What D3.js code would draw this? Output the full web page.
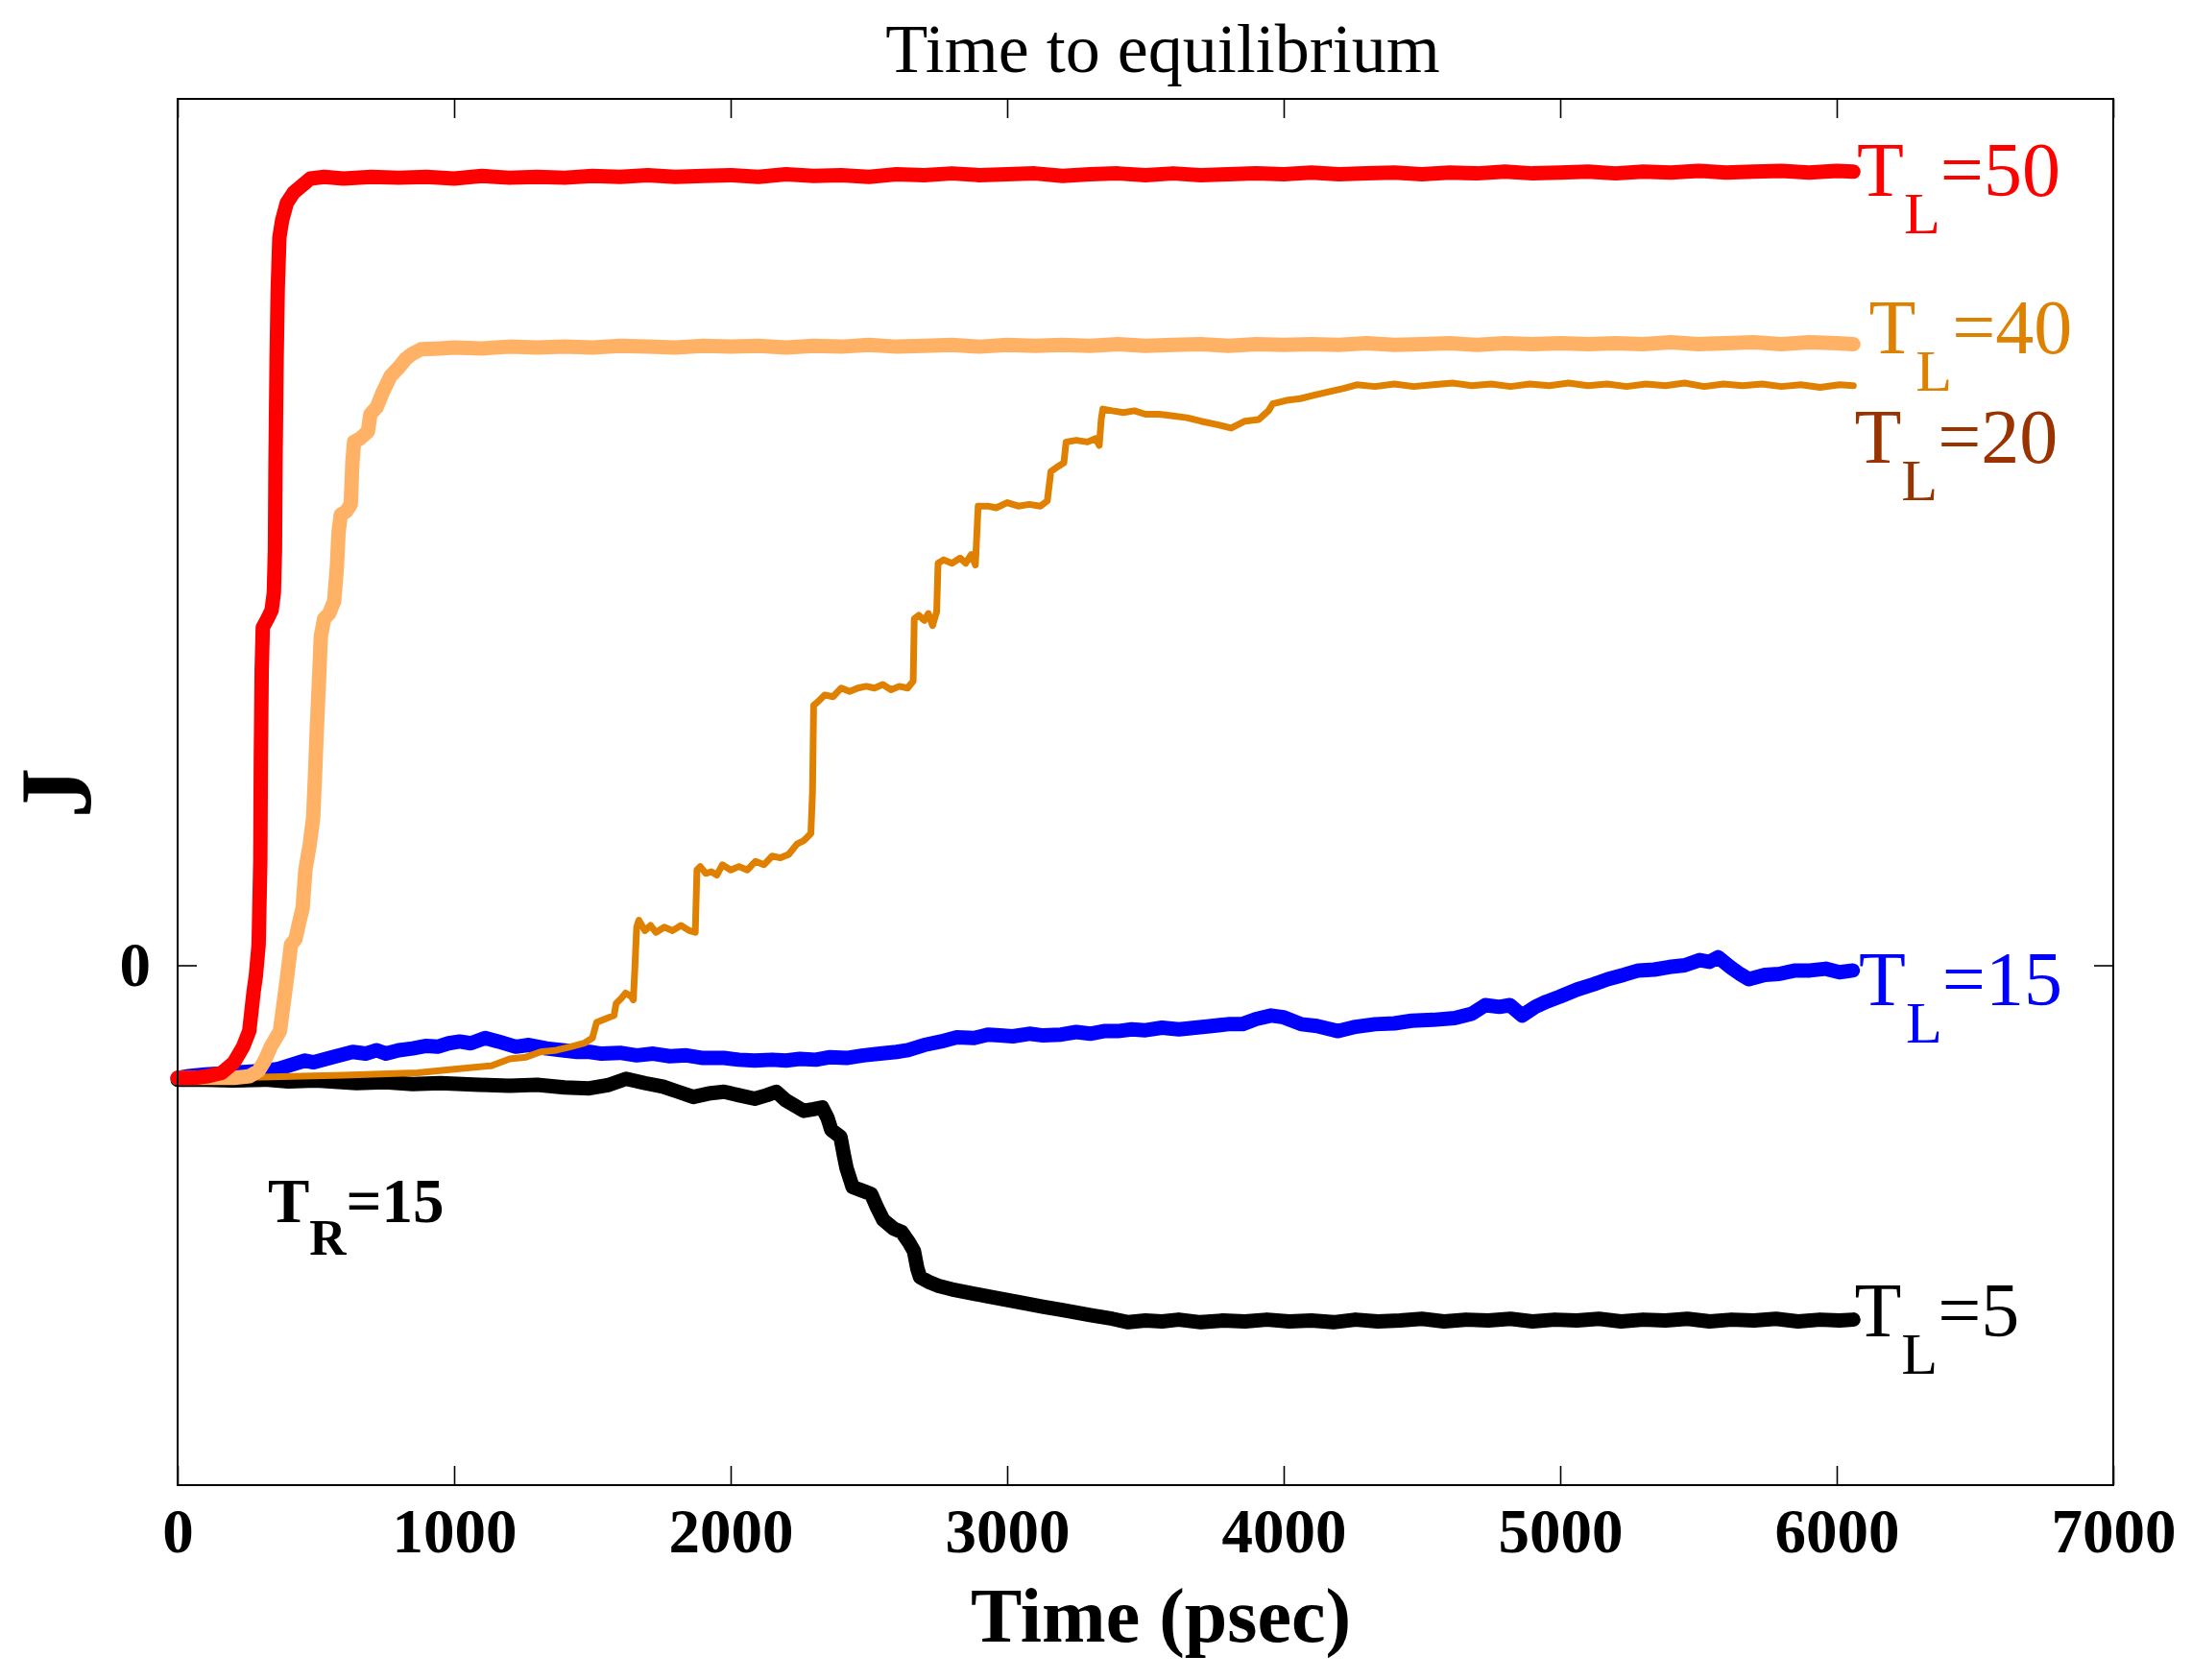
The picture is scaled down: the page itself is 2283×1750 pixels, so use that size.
<!DOCTYPE html>
<html>
<head>
<meta charset="utf-8">
<script src="https://cdn.jsdelivr.net/npm/d3@7"></script>
<style>
  html, body { margin: 0; padding: 0; background: #fff; }
  svg { display: block; }
</style>
</head>
<body>
<svg id="chart" width="2283" height="1750"></svg>
<script>
// ---------- data (time in psec, J in arbitrary units) ----------
const xTicks = [0, 1000, 2000, 3000, 4000, 5000, 6000, 7000];
const yTicks = [0];
const titleText = "Time to equilibrium";
const xLabel = "Time (psec)";
const yLabel = "J";

const seriesTL50 = [[0,-0.65],[60,-0.65],[110,-0.64],[160,-0.62],[204,-0.56],[237,-0.47],[259,-0.38],[268,-0.25],[275,-0.15],[283,-0.06],[293,0.12],[299,0.6],[301,1.2],[304,1.7],[308,1.95],[325,2.0],[340,2.05],[348,2.15],[352,2.4],[354,2.9],[358,3.5],[362,3.9],[368,4.2],[378,4.3],[395,4.4],[420,4.46],[450,4.5],[480,4.54],[530,4.55],[600,4.54],[700,4.55],[800,4.545],[900,4.55],[1000,4.54],[1100,4.555],[1200,4.545],[1300,4.55],[1400,4.545],[1500,4.555],[1600,4.55],[1700,4.56],[1800,4.55],[1900,4.555],[2000,4.56],[2100,4.55],[2200,4.565],[2300,4.555],[2400,4.56],[2500,4.55],[2600,4.565],[2700,4.56],[2800,4.57],[2900,4.56],[3000,4.565],[3100,4.57],[3200,4.555],[3300,4.565],[3400,4.57],[3500,4.56],[3600,4.57],[3700,4.56],[3800,4.565],[3900,4.57],[4000,4.565],[4100,4.575],[4200,4.565],[4300,4.57],[4400,4.575],[4500,4.565],[4600,4.575],[4700,4.57],[4800,4.58],[4900,4.57],[5000,4.575],[5100,4.58],[5200,4.57],[5300,4.58],[5400,4.575],[5500,4.585],[5600,4.575],[5700,4.58],[5800,4.585],[5900,4.575],[6000,4.585],[6060,4.58]];

const seriesTL40 = [[0,-0.65],[120,-0.65],[204,-0.65],[260,-0.64],[292,-0.61],[315,-0.55],[337,-0.47],[370,-0.38],[385,-0.2],[398,-0.04],[410,0.12],[426,0.15],[440,0.25],[452,0.33],[462,0.55],[478,0.7],[490,0.85],[497,1.1],[503,1.35],[510,1.6],[518,1.9],[530,2.0],[548,2.03],[566,2.1],[576,2.3],[582,2.5],[590,2.6],[610,2.62],[626,2.66],[632,2.9],[638,3.02],[660,3.04],[688,3.08],[697,3.18],[720,3.22],[740,3.3],[770,3.4],[800,3.45],[825,3.5],[850,3.53],[880,3.555],[950,3.56],[1000,3.565],[1100,3.56],[1200,3.57],[1300,3.565],[1400,3.57],[1500,3.565],[1600,3.575],[1700,3.57],[1800,3.565],[1900,3.575],[2000,3.57],[2100,3.575],[2200,3.565],[2300,3.575],[2400,3.57],[2500,3.58],[2600,3.57],[2700,3.575],[2800,3.58],[2900,3.57],[3000,3.58],[3100,3.575],[3200,3.58],[3300,3.575],[3400,3.585],[3500,3.575],[3600,3.58],[3700,3.585],[3800,3.575],[3900,3.585],[4000,3.58],[4100,3.585],[4200,3.58],[4300,3.59],[4400,3.58],[4500,3.585],[4600,3.59],[4700,3.58],[4800,3.59],[4900,3.585],[5000,3.59],[5100,3.585],[5200,3.59],[5300,3.585],[5400,3.595],[5500,3.585],[5600,3.59],[5700,3.595],[5800,3.585],[5900,3.595],[6000,3.59],[6060,3.585]];

const seriesTL20 = [[0,-0.65],[300,-0.645],[600,-0.635],[868,-0.62],[1000,-0.6],[1134,-0.58],[1201,-0.54],[1260,-0.53],[1312,-0.5],[1370,-0.49],[1422,-0.47],[1470,-0.45],[1500,-0.42],[1515,-0.33],[1545,-0.31],[1578,-0.29],[1586,-0.22],[1605,-0.19],[1620,-0.16],[1640,-0.18],[1648,-0.2],[1654,0.0],[1660,0.22],[1668,0.26],[1690,0.2],[1710,0.23],[1730,0.19],[1760,0.22],[1790,0.2],[1820,0.23],[1850,0.2],[1872,0.19],[1878,0.55],[1890,0.57],[1910,0.53],[1930,0.54],[1950,0.52],[1970,0.58],[2000,0.55],[2030,0.57],[2060,0.55],[2090,0.6],[2120,0.58],[2150,0.63],[2180,0.62],[2210,0.64],[2240,0.7],[2265,0.72],[2290,0.76],[2296,1.0],[2300,1.5],[2315,1.52],[2340,1.56],[2370,1.55],[2400,1.6],[2430,1.58],[2460,1.6],[2490,1.61],[2520,1.6],[2550,1.62],[2580,1.59],[2610,1.61],[2640,1.6],[2660,1.64],[2664,2.0],[2680,2.02],[2700,1.99],[2715,2.03],[2730,1.96],[2745,2.04],[2750,2.32],[2770,2.34],[2800,2.32],[2830,2.35],[2850,2.32],[2870,2.37],[2885,2.31],[2895,2.65],[2930,2.65],[2960,2.64],[3000,2.67],[3040,2.65],[3080,2.66],[3120,2.65],[3145,2.68],[3158,2.85],[3185,2.88],[3205,2.9],[3213,3.02],[3250,3.03],[3290,3.02],[3320,3.04],[3333,3.0],[3340,3.15],[3346,3.21],[3380,3.2],[3420,3.19],[3460,3.2],[3500,3.18],[3550,3.18],[3600,3.17],[3650,3.16],[3700,3.14],[3760,3.12],[3810,3.1],[3860,3.14],[3910,3.15],[3945,3.2],[3960,3.24],[4010,3.26],[4060,3.27],[4110,3.29],[4163,3.31],[4220,3.33],[4264,3.35],[4330,3.34],[4400,3.355],[4470,3.34],[4540,3.35],[4610,3.36],[4680,3.345],[4750,3.355],[4820,3.34],[4890,3.355],[4960,3.345],[5030,3.36],[5100,3.345],[5170,3.355],[5240,3.34],[5310,3.355],[5380,3.345],[5450,3.36],[5520,3.34],[5590,3.355],[5660,3.345],[5730,3.355],[5800,3.34],[5870,3.35],[5940,3.335],[6010,3.35],[6060,3.345]];

const seriesTL15 = [[0,-0.65],[40,-0.64],[100,-0.63],[200,-0.62],[300,-0.61],[359,-0.6],[420,-0.57],[461,-0.55],[492,-0.56],[560,-0.53],[633,-0.5],[680,-0.51],[720,-0.49],[753,-0.51],[800,-0.49],[850,-0.48],[900,-0.465],[940,-0.47],[980,-0.45],[1020,-0.44],[1060,-0.45],[1112,-0.42],[1160,-0.44],[1223,-0.47],[1270,-0.46],[1334,-0.48],[1390,-0.49],[1445,-0.5],[1490,-0.5],[1533,-0.51],[1600,-0.505],[1660,-0.52],[1720,-0.51],[1780,-0.525],[1840,-0.52],[1900,-0.535],[1976,-0.535],[2030,-0.545],[2087,-0.55],[2150,-0.545],[2200,-0.55],[2250,-0.54],[2308,-0.545],[2360,-0.53],[2419,-0.535],[2480,-0.52],[2540,-0.51],[2600,-0.5],[2641,-0.49],[2700,-0.46],[2760,-0.44],[2818,-0.415],[2880,-0.42],[2930,-0.4],[2973,-0.405],[3020,-0.41],[3080,-0.395],[3130,-0.405],[3195,-0.4],[3250,-0.385],[3300,-0.395],[3350,-0.38],[3400,-0.38],[3450,-0.37],[3500,-0.375],[3560,-0.36],[3621,-0.37],[3680,-0.36],[3740,-0.35],[3799,-0.34],[3850,-0.34],[3900,-0.31],[3954,-0.29],[4000,-0.3],[4064,-0.34],[4120,-0.35],[4197,-0.38],[4260,-0.355],[4330,-0.34],[4400,-0.335],[4463,-0.32],[4540,-0.315],[4618,-0.305],[4680,-0.28],[4729,-0.23],[4780,-0.24],[4818,-0.23],[4862,-0.29],[4910,-0.24],[4950,-0.21],[5000,-0.18],[5061,-0.14],[5120,-0.11],[5172,-0.08],[5230,-0.055],[5283,-0.03],[5340,-0.025],[5394,-0.01],[5450,0.0],[5504,0.03],[5540,0.02],[5571,0.046],[5615,-0.01],[5650,-0.05],[5682,-0.08],[5740,-0.055],[5792,-0.05],[5850,-0.03],[5903,-0.03],[5960,-0.02],[6010,-0.04],[6058,-0.03]];

const seriesTL5 = [[0,-0.66],[100,-0.66],[200,-0.665],[315,-0.66],[400,-0.67],[500,-0.665],[647,-0.68],[750,-0.675],[850,-0.685],[950,-0.68],[1090,-0.69],[1200,-0.695],[1300,-0.69],[1400,-0.705],[1489,-0.71],[1560,-0.69],[1622,-0.655],[1690,-0.68],[1755,-0.7],[1810,-0.73],[1865,-0.76],[1920,-0.74],[1976,-0.73],[2030,-0.75],[2087,-0.77],[2130,-0.75],[2165,-0.73],[2200,-0.78],[2264,-0.84],[2300,-0.83],[2331,-0.82],[2350,-0.88],[2364,-0.95],[2397,-0.99],[2410,-1.1],[2419,-1.17],[2441,-1.28],[2475,-1.3],[2508,-1.32],[2530,-1.4],[2552,-1.47],[2590,-1.52],[2619,-1.54],[2645,-1.6],[2663,-1.65],[2675,-1.75],[2685,-1.8],[2720,-1.83],[2752,-1.85],[2800,-1.87],[2862,-1.89],[2930,-1.91],[2995,-1.93],[3060,-1.95],[3128,-1.97],[3200,-1.99],[3305,-2.02],[3380,-2.04],[3438,-2.06],[3500,-2.05],[3560,-2.055],[3620,-2.045],[3700,-2.06],[3780,-2.05],[3860,-2.055],[3940,-2.045],[4020,-2.055],[4100,-2.05],[4180,-2.06],[4260,-2.045],[4340,-2.055],[4420,-2.05],[4500,-2.04],[4580,-2.055],[4660,-2.045],[4740,-2.05],[4820,-2.04],[4900,-2.055],[4980,-2.045],[5060,-2.05],[5140,-2.04],[5220,-2.055],[5300,-2.045],[5380,-2.05],[5460,-2.04],[5540,-2.055],[5620,-2.045],[5700,-2.05],[5780,-2.04],[5860,-2.055],[5940,-2.045],[6010,-2.05],[6060,-2.045]];

// drawing order (bottom to top)
const seriesList = [
  { name: "TL5",  data: seriesTL5,  color: "#000000", width: 15 },
  { name: "TL15", data: seriesTL15, color: "#0000ff", width: 15 },
  { name: "TL20", data: seriesTL20, color: "#e08000", width: 7 },
  { name: "TL40", data: seriesTL40, color: "#ffb266", width: 15 },
  { name: "TL50", data: seriesTL50, color: "#ff0000", width: 15 }
];

// curve labels: anchor in data units (time, J)
const curveLabels = [
  { main: "T", sub: "L", rest: "=50", t: 6073, j: 4.44, color: "#ff0000" },
  { main: "T", sub: "L", rest: "=40", t: 6116, j: 3.53, color: "#de8000" },
  { main: "T", sub: "L", rest: "=20", t: 6064, j: 2.90, color: "#993300" },
  { main: "T", sub: "L", rest: "=15", t: 6080, j: -0.23, color: "#0000ff" },
  { main: "T", sub: "L", rest: "=5",  t: 6064, j: -2.14, color: "#000000" }
];
const trLabel = { main: "T", sub: "R", rest: "=15", t: 326, j: -1.48 };

// ---------- layout ----------
(function () {
const svg = d3.select("#chart");
const pL = 185, pR = 2201, pT = 103, pB = 1547;
const x = d3.scaleLinear().domain([0, 7000]).range([pL, pR]);
const y = d3.scaleLinear().domain([-3, 5]).range([pB, pT]);
const serif = "'Liberation Serif', 'Times New Roman', Times, serif";

svg.append("rect").attr("width", 2283).attr("height", 1750).attr("fill", "#fff");

// lines
const line = d3.line().x(d => x(d[0])).y(d => y(d[1]));
svg.append("g").selectAll("path").data(seriesList).join("path")
  .attr("d", d => line(d.data))
  .attr("fill", "none")
  .attr("stroke", d => d.color)
  .attr("stroke-width", d => d.width)
  .attr("stroke-linejoin", "round")
  .attr("stroke-linecap", "round");

// axes
const xAxis = svg.append("g").attr("transform", `translate(0,${pB})`)
  .call(d3.axisBottom(x).tickValues(xTicks).tickFormat(d3.format("d")).tickSizeInner(-20).tickSizeOuter(0).tickPadding(24));
const xAxisTop = svg.append("g").attr("transform", `translate(0,${pT})`)
  .call(d3.axisTop(x).tickValues(xTicks).tickFormat("").tickSizeInner(-20).tickSizeOuter(0));
const yAxis = svg.append("g").attr("transform", `translate(${pL},0)`)
  .call(d3.axisLeft(y).tickValues(yTicks).tickFormat(d3.format("d")).tickSizeInner(-20).tickSizeOuter(0).tickPadding(28));
const yAxisRight = svg.append("g").attr("transform", `translate(${pR},0)`)
  .call(d3.axisRight(y).tickValues(yTicks).tickFormat("").tickSizeInner(-20).tickSizeOuter(0));

[xAxis, xAxisTop, yAxis, yAxisRight].forEach(g => {
  g.select(".domain").remove();
  g.selectAll(".tick line").attr("stroke", "#000").attr("stroke-width", 1.6);
  g.selectAll(".tick text").attr("font-family", serif).attr("font-weight", "bold")
    .attr("font-size", 65).attr("fill", "#000");
});

// frame
svg.append("rect").attr("x", pL).attr("y", pT)
  .attr("width", pR - pL).attr("height", pB - pT)
  .attr("fill", "none").attr("stroke", "#000").attr("stroke-width", 2);

// title & axis labels
svg.append("text").attr("x", 1211).attr("y", 75).attr("text-anchor", "middle")
  .attr("font-family", serif).attr("font-size", 72).text(titleText);
svg.append("text").attr("x", 1209).attr("y", 1710).attr("text-anchor", "middle")
  .attr("font-family", serif).attr("font-weight", "bold").attr("font-size", 80).text(xLabel);
svg.append("text").attr("transform", "translate(94,826) rotate(-90)").attr("text-anchor", "middle")
  .attr("font-family", serif).attr("font-weight", "bold").attr("font-size", 106).text(yLabel);

// curve labels with subscripts
function subLabel(g, lab, big, small, shift, bold) {
  const t = g.append("text").attr("x", x(lab.t)).attr("y", y(lab.j))
    .attr("font-family", serif).attr("font-size", big)
    .attr("font-weight", bold ? "bold" : "normal")
    .attr("fill", lab.color || "#000");
  t.append("tspan").text(lab.main);
  t.append("tspan").attr("dy", shift).attr("font-size", small).text(lab.sub);
  t.append("tspan").attr("dy", -shift).attr("font-size", big).text(lab.rest);
}
const lg = svg.append("g");
curveLabels.forEach(l => subLabel(lg, l, 80, 62, 39, false));
subLabel(lg, trLabel, 65, 53, 34, true);
})();
</script>
</body>
</html>
